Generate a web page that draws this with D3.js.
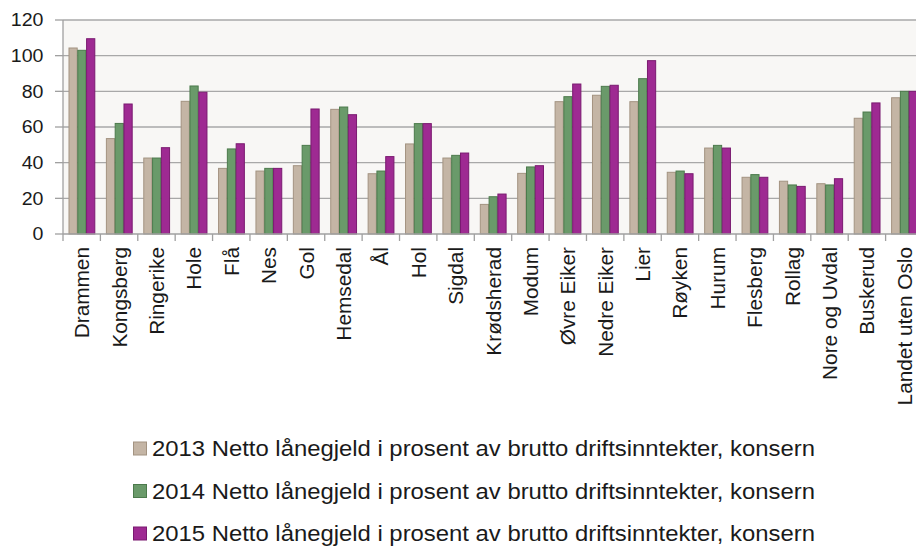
<!DOCTYPE html>
<html><head><meta charset="utf-8">
<script src="https://cdn.jsdelivr.net/npm/d3@7"></script>
<style>
body{margin:0;background:#fff;}
svg{display:block;font-family:"Liberation Sans",Arial,sans-serif;}
</style></head>
<body><svg id="c" width="916" height="547"></svg>
<script>
const categories = ["Drammen","Kongsberg","Ringerike","Hole","Flå","Nes","Gol","Hemsedal","Ål","Hol","Sigdal","Krødsherad","Modum","Øvre Eiker","Nedre Eiker","Lier","Røyken","Hurum","Flesberg","Rollag","Nore og Uvdal","Buskerud","Landet uten Oslo"];
const v2013 = [104.3,53.5,42.6,74.4,36.8,35.3,38.3,69.9,33.8,50.5,42.6,16.6,34.0,74.2,77.8,74.2,34.6,48.2,31.8,29.6,28.2,64.9,76.4];
const v2014 = [103.0,62.0,42.6,83.0,47.7,36.8,49.7,71.2,35.3,61.9,44.1,20.9,37.6,77.0,82.8,87.1,35.3,49.7,33.3,27.5,27.5,68.4,80.0];
const v2015 = [109.5,72.9,48.4,79.5,50.6,36.8,70.1,66.9,43.4,61.9,45.4,22.4,38.3,84.1,83.4,97.2,33.8,48.2,31.8,26.7,31.0,73.5,80.0];
const seriesNames = ["2013 Netto lånegjeld i prosent av brutto driftsinntekter, konsern","2014 Netto lånegjeld i prosent av brutto driftsinntekter, konsern","2015 Netto lånegjeld i prosent av brutto driftsinntekter, konsern"];
const yTicks = [0,20,40,60,80,100,120];

const fills = ["#c4b5a5","#6a9a6a","#9e2a92"];
const strokes = ["#a39381","#4c7a4c","#7a1a70"];
const series = [v2013, v2014, v2015];

const svg = d3.select("#c");
const L = 63, R = 923, T = 20, B = 234;

const x0 = d3.scaleBand().domain(categories).range([L, R]).paddingInner(0.294).paddingOuter(0.147);
const xb = d3.scaleBand().domain(categories).range([L, R]).padding(0);
const x1 = d3.scaleBand().domain([0,1,2]).range([0, x0.bandwidth()]);
const y = d3.scaleLinear().domain([0,120]).range([B, T]);

// plot background
svg.append("rect").attr("x", L).attr("y", T).attr("width", R - L).attr("height", B - T).attr("fill", "#f8f7f5");

// gridlines
svg.append("g").selectAll("line").data(yTicks.filter(d => d > 0)).join("line")
  .attr("x1", L).attr("x2", R).attr("y1", d => y(d)).attr("y2", d => y(d))
  .attr("stroke", "#a8a8a8").attr("stroke-width", 1.3);

// y axis line and ticks
svg.append("line").attr("x1", L).attr("x2", L).attr("y1", T).attr("y2", B).attr("stroke", "#a0a0a0").attr("stroke-width", 1.3);
svg.append("g").selectAll("line").data(yTicks).join("line")
  .attr("x1", L - 8).attr("x2", L).attr("y1", d => y(d)).attr("y2", d => y(d))
  .attr("stroke", "#a0a0a0").attr("stroke-width", 1.3);
svg.append("g").selectAll("text").data(yTicks).join("text")
  .attr("transform", d => `translate(${L - 19.5},${y(d)}) scale(1.12,1)`)
  .attr("text-anchor", "end").attr("dy", "0.36em")
  .attr("font-size", 17.5).attr("fill", "#1a1a1a")
  .text(d => d);

// bars
const g = svg.append("g");
categories.forEach((c, i) => {
  series.forEach((s, k) => {
    g.append("rect")
      .attr("x", x0(c) + x1(k) + 0.5)
      .attr("y", y(s[i]))
      .attr("width", x1.bandwidth() - 0.6)
      .attr("height", y(0) - y(s[i]))
      .attr("fill", fills[k]).attr("stroke", strokes[k]).attr("stroke-width", 1);
  });
});

// x axis line
svg.append("line").attr("x1", L).attr("x2", R).attr("y1", y(0)).attr("y2", y(0)).attr("stroke", "#a0a0a0").attr("stroke-width", 1.5);
// x ticks at category boundaries
const bounds = categories.map(c => xb(c)).concat([xb(categories[categories.length-1]) + xb.bandwidth()]);
svg.append("g").selectAll("line").data(bounds).join("line")
  .attr("x1", d => d).attr("x2", d => d).attr("y1", y(0)).attr("y2", y(0) + 7)
  .attr("stroke", "#a0a0a0").attr("stroke-width", 1.3);

// category labels
svg.append("g").selectAll("text").data(categories).join("text")
  .attr("transform", d => `translate(${x0(d) + x0.bandwidth()/2 + 7.5},${y(0) + 13}) rotate(-90)`)
  .attr("text-anchor", "end")
  .attr("font-size", 20.8).attr("fill", "#1a1a1a")
  .text(d => d);

// legend
const lg = svg.append("g");
seriesNames.forEach((n, k) => {
  const base = 456 + k * 42.5;
  lg.append("rect").attr("x", 133.5).attr("y", base - 14).attr("width", 13).attr("height", 13)
    .attr("fill", fills[k]).attr("stroke", strokes[k]).attr("stroke-width", 1);
  lg.append("text").attr("transform", `translate(152,${base}) scale(1.085,1)`)
    .attr("font-size", 22).attr("fill", "#1a1a1a").text(n);
});
</script></body></html>
